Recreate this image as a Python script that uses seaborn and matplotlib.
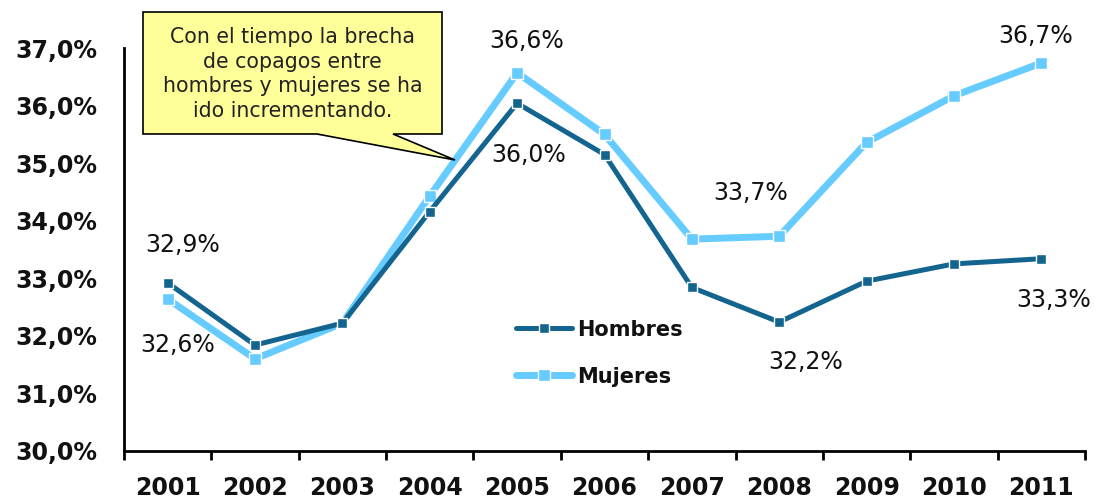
import matplotlib
matplotlib.use("Agg")
import matplotlib.pyplot as plt
from matplotlib.patches import Polygon
from matplotlib.ticker import FuncFormatter, FixedLocator
import seaborn as sns
import pandas as pd

# data
years = [2001, 2002, 2003, 2004, 2005, 2006, 2007, 2008, 2009, 2010, 2011]
hombres = [32.92, 31.84, 32.22, 34.16, 36.04, 35.15, 32.84, 32.24, 32.95, 33.25, 33.34]
mujeres = [32.64, 31.60, 32.22, 34.43, 36.57, 35.50, 33.68, 33.73, 35.36, 36.17, 36.74]

# which points carry a value label
hombres_labeled = [2001, 2005, 2008, 2011]
mujeres_labeled = [2001, 2005, 2008, 2011]

callout_text = "Con el tiempo la brecha\nde copagos entre\nhombres y mujeres se ha\nido incrementando."

df = pd.DataFrame({"year": years, "Hombres": hombres, "Mujeres": mujeres})

c_h = "#13648F"
c_m = "#66CCFF"

sns.set_theme(style="white")
plt.rcParams["font.family"] = ["DejaVu Sans"]

fig = plt.figure(figsize=(11, 4.98), dpi=100)
ax = fig.add_axes([0.1127, 0.0944, 0.8737, 0.8092])

sns.lineplot(data=df, x="year", y="Mujeres", ax=ax, color=c_m, linewidth=5,
             marker="s", markersize=8, markeredgecolor="white", markeredgewidth=1,
             label="Mujeres", zorder=2)
sns.lineplot(data=df, x="year", y="Hombres", ax=ax, color=c_h, linewidth=3.6,
             marker="s", markersize=7, markeredgecolor="white", markeredgewidth=1,
             label="Hombres", zorder=3)

ax.set_xlim(years[0] - 0.5, years[-1] + 0.5)
ax.set_ylim(30, 37)
ax.set_xlabel("")
ax.set_ylabel("")

ax.yaxis.set_major_locator(FixedLocator([30, 31, 32, 33, 34, 35, 36, 37]))
ax.yaxis.set_major_formatter(FuncFormatter(lambda v, p: f"{v:.1f}".replace(".", ",") + "%"))
ax.xaxis.set_major_locator(FixedLocator(years))
ax.xaxis.set_major_formatter(FuncFormatter(lambda v, p: f"{int(round(v))}"))
ax.xaxis.set_minor_locator(FixedLocator([y - 0.5 for y in years] + [years[-1] + 0.5]))

ax.tick_params(axis="y", which="major", direction="out", length=6.5, width=2,
               color="black", pad=13, labelsize=17, labelcolor="#111111")
ax.tick_params(axis="x", which="major", length=0, pad=18, labelsize=17, labelcolor="#111111")
ax.tick_params(axis="x", which="minor", direction="out", length=6.5, width=2,
               color="black", bottom=True)
for lab in ax.get_xticklabels() + ax.get_yticklabels():
    lab.set_fontweight("bold")

for side in ["top", "right"]:
    ax.spines[side].set_visible(False)
for side in ["left", "bottom"]:
    ax.spines[side].set_color("black")
    ax.spines[side].set_linewidth(2)
ax.grid(False)

def fmt(v):
    return f"{v:.1f}".replace(".", ",") + "%"

# offsets in points for the value labels
h_offsets = {2001: (10.8, 27), 2005: (8, -37), 2008: (19, -29), 2011: (8.6, -30)}
m_offsets = {2001: (7.2, -33), 2005: (6.5, 23), 2008: (-20.5, 31), 2011: (-4.3, 19.5)}
for yr in hombres_labeled:
    v = hombres[years.index(yr)]
    ax.annotate(fmt(v), (yr, v), xytext=h_offsets[yr], textcoords="offset points",
                ha="center", va="center", fontsize=17, color="#111111")
for yr in mujeres_labeled:
    v = mujeres[years.index(yr)]
    ax.annotate(fmt(v), (yr, v), xytext=m_offsets[yr], textcoords="offset points",
                ha="center", va="center", fontsize=17, color="#111111")

handles, labels = ax.get_legend_handles_labels()
order = [labels.index("Hombres"), labels.index("Mujeres")]
leg = ax.legend([handles[i] for i in order], [labels[i] for i in order],
                loc="center left", bbox_to_anchor=(0.408, 0.243), frameon=False,
                fontsize=15, handlelength=2.7, handletextpad=0.25, labelspacing=1.3,
                borderpad=0, borderaxespad=0)
for t in leg.get_texts():
    t.set_fontweight("bold")
    t.set_color("#111111")

# callout box (pixel outline, converted to figure fraction)
W, H = 1100, 498
pts = [(143, 12), (442, 12), (442, 134), (393, 134), (455, 160), (317, 134), (143, 134)]
poly = Polygon([(x / W, 1 - y / H) for x, y in pts], closed=True,
               transform=fig.transFigure, facecolor="#FFFF99", edgecolor="black",
               linewidth=1.2, zorder=5, clip_on=False)
fig.patches.append(poly)
fig.text(292.5 / W, 1 - 74 / H, callout_text, ha="center", va="center",
         fontsize=14.8, linespacing=1.3, color="#222222", zorder=6)

fig.savefig("out.png", dpi=100)
